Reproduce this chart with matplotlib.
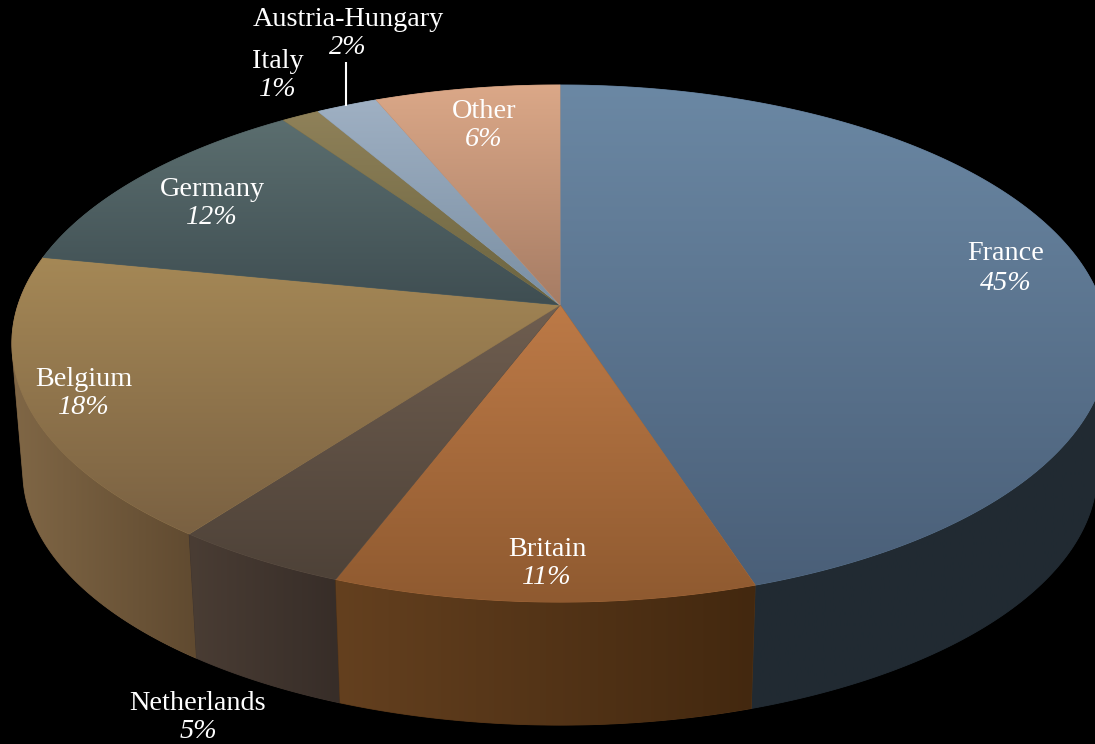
import numpy as np
import matplotlib
matplotlib.use("Agg")
import matplotlib.pyplot as plt
from matplotlib.patches import Polygon
from matplotlib.colors import LinearSegmentedColormap

plt.rcParams['font.family'] = ['Liberation Serif', 'DejaVu Serif']

# ---- data, clockwise from 12 o'clock ----
categories = ["France", "Britain", "Netherlands", "Belgium", "Germany", "Italy", "Austria-Hungary", "Other"]
shares = [45.0, 10.8, 4.5, 17.8, 12.2, 1.3, 2.1, 6.3]
share_labels = ["45%", "11%", "5%", "18%", "12%", "1%", "2%", "6%"]

# ---- styles ----
top_light = ["#6b88a4", "#bd7a47", "#6f5e50", "#a58856", "#5b6e6f", "#8f8159", "#9fb0c3", "#dba888"]
top_dark = ["#4a5f78", "#8f5a30", "#4e4238", "#7a6142", "#3f4e52", "#6b6440", "#7a8fa3", "#a67c64"]
wall_left = ["#212b33", "#64401f", "#4a3d34", "#806746", "#2c3636", "#4f4630", "#55636f", "#6d5140"]
wall_right = ["#212a32", "#43280f", "#372d28", "#604a30", "#2c3636", "#4f4630", "#55636f", "#6d5140"]
label_pos = [(1006, 253), (547, 549), (198, 703), (84, 379), (212, 189), (278, 61), (348, 20), (484, 111)]
pct_pos = [(1006, 283), (547, 577), (198, 732), (84, 408), (212, 217), (278, 89), (348, 48), (484, 139)]

# ---- perspective geometry, pixel coordinates ----
CX, CY = 560, 305
A, H, K = 542.0, 252.8, 0.149
SHRINK, DEPTH = 0.98, 129.0


def rim(theta, low=False):
    s, c = np.cos(theta), np.sin(theta)
    x = A * c / (1 + K * s)
    y = H * s / (1 + K * s)
    if low:
        x, y = x * SHRINK, y * SHRINK - DEPTH
    return CX + x, CY - y


def hull(points):
    pts = sorted(set(map(tuple, np.round(points, 3))))

    def half(seq):
        out = []
        for p in seq:
            while len(out) >= 2 and ((out[-1][0] - out[-2][0]) * (p[1] - out[-2][1])
                                     - (out[-1][1] - out[-2][1]) * (p[0] - out[-2][0])) <= 0:
                out.pop()
            out.append(p)
        return out

    a, b = half(pts), half(pts[::-1])
    return np.array(a[:-1] + b[:-1])


fig = plt.figure(figsize=(10.95, 7.44), dpi=100, facecolor="black")
ax = fig.add_axes([0, 0, 1, 1])
ax.set_xlim(0, 1095)
ax.set_ylim(744, 0)
ax.axis("off")
ax.set_facecolor("black")


def shaded(poly, c0, c1, horizontal, extent, z):
    cmap = LinearSegmentedColormap.from_list("g", [c0, c1])
    g = np.linspace(0, 1, 256)
    arr = g[None, :] if horizontal else g[:, None]
    # backing polygon hides hairline seams between neighbouring clipped images
    ax.add_patch(Polygon(poly, closed=True, facecolor=cmap(0.5), edgecolor=cmap(0.5), lw=0.6, zorder=z))
    im = ax.imshow(arr, cmap=cmap, vmin=0, vmax=1, extent=extent, aspect="auto",
                   origin="upper" if not horizontal else "lower", zorder=z + 0.1, interpolation="bilinear")
    patch = Polygon(poly, closed=True, transform=ax.transData, facecolor="none", edgecolor="none")
    ax.add_patch(patch)
    im.set_clip_path(patch)


edges = np.cumsum([0] + shares) / sum(shares) * 2 * np.pi
for n, i in enumerate(sorted(range(len(shares)), key=lambda j: abs(np.pi - (edges[j] + edges[j + 1]) / 2), reverse=True)):
    th = np.linspace(edges[i], edges[i + 1], 200)
    tx, ty = rim(th)
    bx, by = rim(th, low=True)
    poly = hull(np.r_[np.c_[tx, ty], np.c_[bx, by]])
    lo, hi = poly[:, 0].min(), poly[:, 0].max()
    shaded(poly, wall_left[i], wall_right[i], True, (lo, hi, 744, 0), 1 + n * 0.2)

for i in range(len(shares)):
    th = np.linspace(edges[i], edges[i + 1], 300)
    tx, ty = rim(th)
    poly = np.r_[[[CX, CY]], np.c_[tx, ty]]
    shaded(poly, top_light[i], top_dark[i], False, (0, 1095, poly[:, 1].max(), poly[:, 1].min()), 4 + i * 0.2)

ax.plot([346, 346], [62, 106], color="white", lw=1.5, zorder=7, solid_capstyle="butt")

for name, pct, p, q in zip(categories, share_labels, label_pos, pct_pos):
    ax.text(p[0], p[1], name, color="white", fontsize=20.3, ha="center", va="center", zorder=8)
    ax.text(q[0], q[1], pct, color="white", fontsize=20.3, style="italic", ha="center", va="center", zorder=8)

ax.set_xlim(0, 1095)
ax.set_ylim(744, 0)
fig.savefig("out.png", dpi=100, facecolor="black")
